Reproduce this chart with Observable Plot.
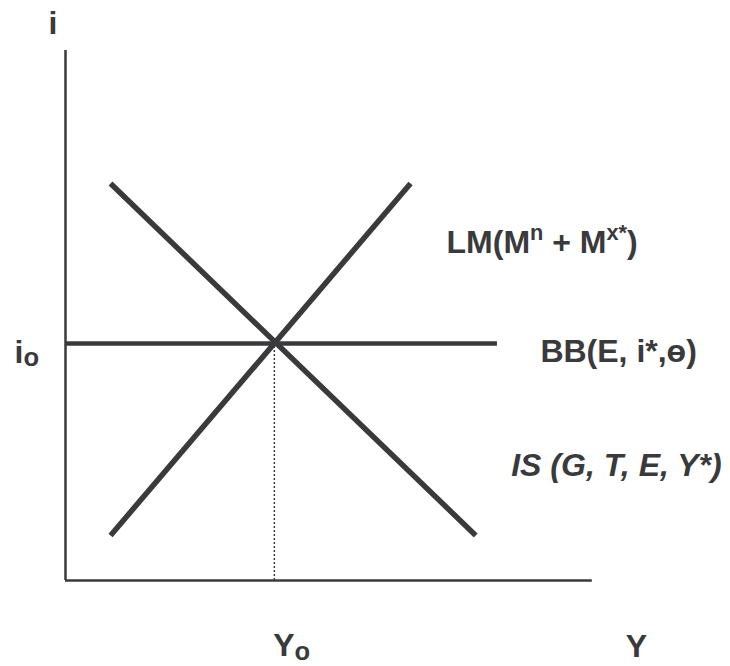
<!DOCTYPE html>
<html><head><meta charset="utf-8">
<script src="https://cdn.jsdelivr.net/npm/d3@7"></script>
<script src="https://cdn.jsdelivr.net/npm/@observablehq/plot@0.6"></script>
<style>html,body{margin:0;padding:0;background:#fff}#chart svg{display:block}</style>
</head><body><div id="chart"></div>
<script>
// Curve end points (Y on x, i on y), abstract units
const lmX = [0.85, 6.51];
const lmY = [0.85, 7.49];
const isX = [0.85, 7.74];
const isY = [7.49, 0.85];
const bbX = [0, 8.15];
const i0 = 4.47;          // equilibrium interest rate
const Y0 = 3.94;          // equilibrium output
const axisXEnd = 9.94;
const axisYEnd = 10;

// Labels (anchored at the baseline start)
const labelText = ["i", "i_{o}", "Y_{o}", "Y", "LM(M^{n} + M^{x*})", "BB(E, i*,ɵ)"];
const labelX = [-0.32, -0.96, 3.92, 10.57, 7.19, 8.96];
const labelY = [10.32, 4.11, -1.43, -1.45, 6.17, 4.13];
const isText = ["IS (G, T, E, Y*)"];
const isLabelX = [8.41];
const isLabelY = [1.98];

const ink = "#3a3a3c";
const font = "'Liberation Sans', Arial, sans-serif";
const fs = 32;

const line = (xs, ys) => xs.map((x, k) => ({x, y: ys[k]}));
const labels = labelText.map((t, k) => ({t, x: labelX[k], y: labelY[k]}));
const isLabels = isText.map((t, k) => ({t, x: isLabelX[k], y: isLabelY[k]}));

const chart = Plot.plot({
  width: 730, height: 666,
  marginLeft: 65, marginRight: 135, marginTop: 50, marginBottom: 86,
  x: {domain: [0, 10], axis: null},
  y: {domain: [0, 10], axis: null},
  style: {background: "#fff"},
  marks: [
    Plot.ruleY([0], {x1: 0, x2: axisXEnd, stroke: ink, strokeWidth: 2.5}),
    Plot.ruleX([0], {y1: 0, y2: axisYEnd, stroke: ink, strokeWidth: 2.5}),
    Plot.ruleX([Y0], {y1: 0, y2: i0, stroke: ink, strokeWidth: 1.5, strokeDasharray: "2,2"}),
    Plot.ruleY([i0], {x1: bbX[0], x2: bbX[1], stroke: ink, strokeWidth: 4.5}),
    Plot.line(line(lmX, lmY), {x: "x", y: "y", stroke: ink, strokeWidth: 5.5, strokeLinecap: "butt"}),
    Plot.line(line(isX, isY), {x: "x", y: "y", stroke: ink, strokeWidth: 5.5, strokeLinecap: "butt"}),
    Plot.text(labels, {x: "x", y: "y", text: "t", textAnchor: "start", lineAnchor: "bottom",
      fill: ink, fontSize: fs, fontWeight: "bold", fontFamily: font}),
    Plot.text(isLabels, {x: "x", y: "y", text: "t", textAnchor: "start", lineAnchor: "bottom",
      fill: ink, fontSize: fs, fontWeight: "bold", fontStyle: "italic", fontFamily: font})
  ]
});

// Turn ^{..} and _{..} into super/subscript tspans
d3.select(chart).selectAll("text").each(function () {
  const s = this.textContent;
  if (!/[\^_]\{/.test(s)) return;
  const parts = [];
  const re = /([\^_])\{([^}]*)\}/g;
  let last = 0, m;
  while ((m = re.exec(s))) {
    if (m.index > last) parts.push({t: s.slice(last, m.index), k: ""});
    parts.push({t: m[2], k: m[1]});
    last = re.lastIndex;
  }
  if (last < s.length) parts.push({t: s.slice(last), k: ""});
  const el = d3.select(this);
  el.text(null);
  let shift = 0;
  for (const p of parts) {
    let target = 0, size = fs;
    if (p.k === "^") { target = -0.42 * fs; size = 0.68 * fs; }
    if (p.k === "_") { target = 0.11 * fs; size = 0.8 * fs; }
    el.append("tspan").attr("dy", target - shift).attr("font-size", size).text(p.t);
    shift = target;
  }
});

document.getElementById("chart").appendChild(chart);
</script>
</body></html>
